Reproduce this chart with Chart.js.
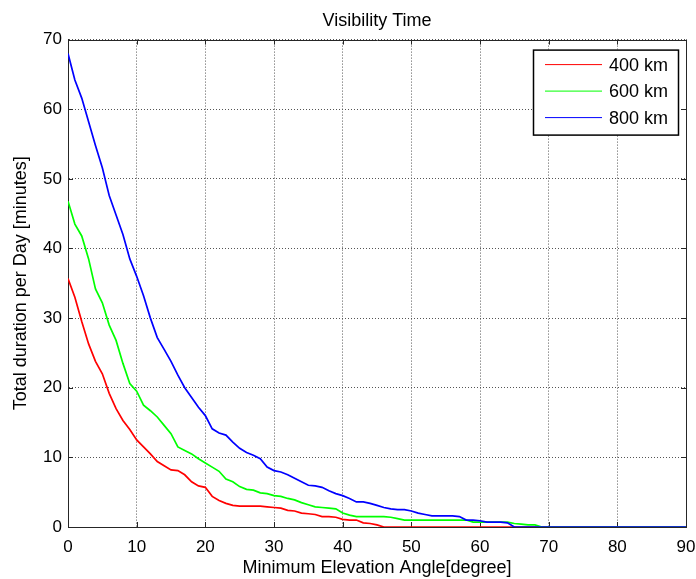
<!DOCTYPE html>
<html>
<head>
<meta charset="utf-8">
<script src="https://cdn.jsdelivr.net/npm/chart.js@4"></script>
<style>
  html, body { margin: 0; padding: 0; background: #ffffff; }
  #wrap { width: 696px; height: 579px; }
</style>
</head>
<body>
<div id="wrap"><canvas id="c" width="696" height="579"></canvas></div>
<script>
// ---- data ----
const chartTitle = "Visibility Time";
const xAxisLabel = "Minimum Elevation Angle[degree]";
const yAxisLabel = "Total duration per Day [minutes]";
const seriesNames = ["400 km", "600 km", "800 km"];
const seriesColors = ["#ff0000", "#00ff00", "#0000ff"];
const xTicks = [0, 10, 20, 30, 40, 50, 60, 70, 80, 90];
const yTicks = [0, 10, 20, 30, 40, 50, 60, 70];

const angles = [0,1,2,3,4,5,6,7,8,9,10,11,12,13,14,15,16,17,18,19,20,21,22,23,24,25,26,27,28,29,
  30,31,32,33,34,35,36,37,38,39,40,41,42,43,44,45,46,47,48,49,50,51,52,53,54,55,56,57,58,59,
  60,61,62,63,64,65,66,67,68,69,70,71,72,73,74,75,76,77,78,79,80,81,82,83,84,85,86,87,88,89,90];

const km400 = [35.7,33.0,29.5,26.3,23.8,22.0,19.2,17.0,15.3,14.0,
  12.5,11.5,10.5,9.4,8.8,8.2,8.1,7.5,6.5,5.9,
  5.7,4.4,3.8,3.4,3.1,3.0,3.0,3.0,3.0,2.9,
  2.8,2.7,2.4,2.3,2.0,1.9,1.8,1.5,1.5,1.4,
  1.1,1.0,1.0,0.6,0.5,0.3,0,0,0,0,
  0,0,0,0,0,0,0,0,0,0,
  0,0,0,0,0,0,0,0,0,0,
  0,0,0,0,0,0,0,0,0,0,
  0,0,0,0,0,0,0,0,0,0,0];

const km600 = [46.8,43.5,41.8,38.5,34.2,32.2,29.0,26.8,23.5,20.6,
  19.5,17.5,16.7,15.8,14.6,13.4,11.5,11.0,10.5,9.8,
  9.2,8.6,8.0,6.9,6.5,5.8,5.4,5.3,4.9,4.8,
  4.5,4.4,4.1,3.9,3.5,3.2,2.9,2.8,2.7,2.6,
  2.0,1.7,1.5,1.5,1.5,1.5,1.5,1.4,1.2,1.0,
  1.0,1.0,1.0,1.0,1.0,1.0,1.0,1.0,1.0,0.7,
  0.7,0.7,0.7,0.7,0.7,0.5,0.4,0.3,0.3,0,
  0,0,0,0,0,0,0,0,0,0,
  0,0,0,0,0,0,0,0,0,0,0];

const km800 = [68.0,64.2,61.6,58.2,54.8,51.6,47.6,44.8,42.0,38.5,
  36.0,33.2,30.0,27.2,25.5,23.8,21.8,20.0,18.6,17.2,
  16.0,14.1,13.5,13.2,12.2,11.3,10.7,10.3,9.8,8.6,
  8.1,7.9,7.5,7.0,6.5,6.0,5.9,5.7,5.2,4.8,
  4.5,4.1,3.6,3.6,3.4,3.1,2.8,2.6,2.5,2.5,
  2.3,2.0,1.8,1.6,1.6,1.6,1.6,1.5,1.0,1.0,
  0.9,0.7,0.7,0.7,0.6,0,0,0,0,0,
  0,0,0,0,0,0,0,0,0,0,
  0,0,0,0,0,0,0,0,0,0,0];

const seriesValues = [km400, km600, km800];

// ---- helpers ----
const FONT = "'Liberation Sans', Arial, Helvetica, sans-serif";

function toPoints(vals) {
  return angles.map((a, i) => ({ x: a, y: vals[i] }));
}

const boxTicksPlugin = {
  id: 'boxTicks',
  beforeDatasetsDraw(chart) {
    const { ctx, chartArea: a, scales } = chart;
    ctx.save();
    ctx.strokeStyle = '#262626';
    ctx.lineWidth = 1;
    ctx.beginPath();
    ctx.rect(Math.round(a.left) + 0.5, Math.round(a.top) + 0.5,
             Math.round(a.right - a.left), Math.round(a.bottom - a.top));
    ctx.stroke();
    const L = 5;
    ctx.beginPath();
    scales.x.ticks.forEach(t => {
      const px = Math.round(scales.x.getPixelForValue(t.value)) + 0.5;
      ctx.moveTo(px, a.bottom); ctx.lineTo(px, a.bottom - L);
      ctx.moveTo(px, a.top); ctx.lineTo(px, a.top + L);
    });
    scales.y.ticks.forEach(t => {
      const py = Math.round(scales.y.getPixelForValue(t.value)) + 0.5;
      ctx.moveTo(a.left, py); ctx.lineTo(a.left + L, py);
      ctx.moveTo(a.right, py); ctx.lineTo(a.right - L, py);
    });
    ctx.stroke();
    ctx.restore();
  }
};

const innerLegendPlugin = {
  id: 'innerLegend',
  afterDraw(chart) {
    const { ctx, chartArea: a } = chart;
    const w = 145, h = 85;
    const x0 = a.right - 8 - w;
    const y0 = a.top + 10;
    ctx.save();
    ctx.fillStyle = '#ffffff';
    ctx.fillRect(x0, y0, w, h);
    ctx.strokeStyle = '#000000';
    ctx.lineWidth = 1.5;
    ctx.strokeRect(x0 + 0.5, y0 + 0.5, w, h);
    ctx.font = '18px ' + FONT;
    ctx.textBaseline = 'middle';
    ctx.textAlign = 'left';
    chart.data.datasets.forEach((ds, i) => {
      const yy = y0 + 15 + i * 26.5;
      ctx.strokeStyle = ds.borderColor;
      ctx.lineWidth = 1;
      ctx.beginPath();
      ctx.moveTo(x0 + 12, yy); ctx.lineTo(x0 + 69, yy);
      ctx.stroke();
      ctx.fillStyle = '#000000';
      ctx.fillText(ds.label, x0 + 76, yy + 1);
    });
    ctx.restore();
  }
};

const datasets = seriesNames.map((name, i) => ({
  label: name,
  data: toPoints(seriesValues[i]),
  borderColor: seriesColors[i],
  backgroundColor: seriesColors[i],
  borderWidth: 1.7,
  pointRadius: 0,
  tension: 0,
  fill: false,
  order: seriesNames.length - 1 - i
}));

new Chart(document.getElementById('c'), {
  type: 'line',
  data: { datasets },
  options: {
    responsive: false,
    animation: false,
    events: [],
    layout: { padding: { left: 0, right: 0, top: 0, bottom: 0 } },
    plugins: {
      legend: { display: false },
      tooltip: { enabled: false },
      title: {
        display: true,
        text: chartTitle,
        fullSize: false,
        color: '#000000',
        font: { family: FONT, size: 18, weight: 'normal' },
        padding: { top: 10, bottom: 8 }
      }
    },
    scales: {
      x: {
        type: 'linear',
        min: 0, max: 90,
        afterBuildTicks(scale) { scale.ticks = xTicks.map(v => ({ value: v })); },
        afterFit(scale) { scale.height = 52; scale.paddingRight = 10; },
        ticks: {
          color: '#000000',
          font: { family: FONT, size: 17 },
          padding: 10,
          maxRotation: 0,
          autoSkip: false
        },
        grid: { color: '#555555', lineWidth: 1, drawTicks: false },
        border: { display: true, color: '#262626', dash: [1, 2] },
        title: {
          display: true,
          text: xAxisLabel,
          color: '#000000',
          font: { family: FONT, size: 18 },
          padding: { top: 0, bottom: 0 }
        }
      },
      y: {
        type: 'linear',
        min: 0, max: 70,
        afterBuildTicks(scale) { scale.ticks = yTicks.map(v => ({ value: v })); },
        afterFit(scale) { scale.width = 68; },
        ticks: {
          color: '#000000',
          font: { family: FONT, size: 17 },
          padding: 6
        },
        grid: { color: '#555555', lineWidth: 1, drawTicks: false },
        border: { display: true, color: '#262626', dash: [1, 2] },
        title: {
          display: true,
          text: yAxisLabel,
          color: '#000000',
          font: { family: FONT, size: 18 },
          padding: { top: 10, bottom: 0 }
        }
      }
    }
  },
  plugins: [boxTicksPlugin, innerLegendPlugin]
});
</script>
</body>
</html>
